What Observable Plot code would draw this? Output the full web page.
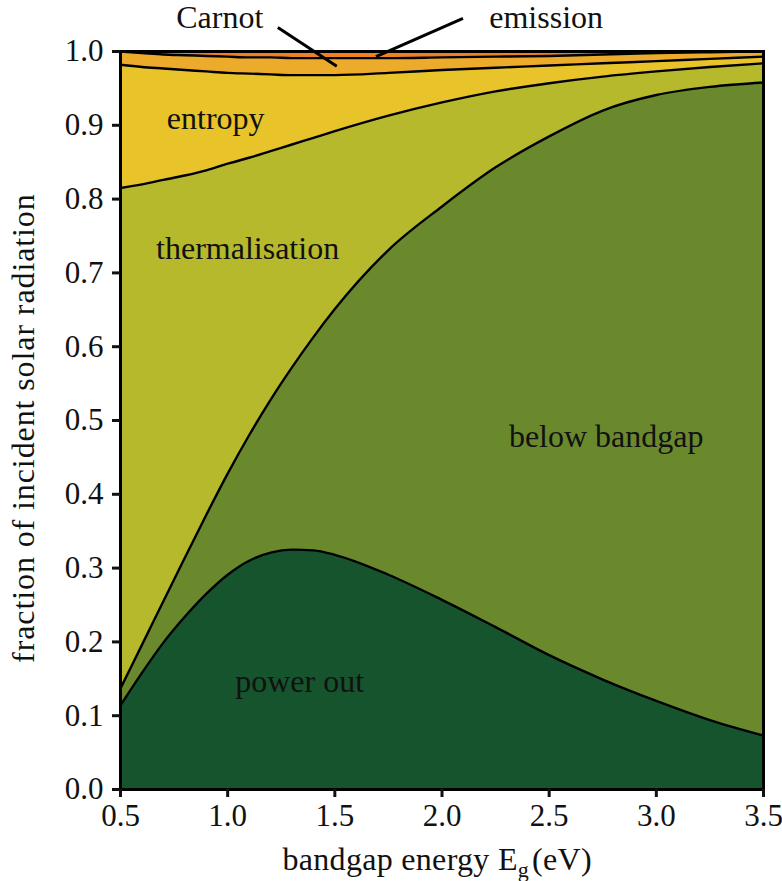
<!DOCTYPE html>
<html>
<head>
<meta charset="utf-8">
<script src="https://cdn.jsdelivr.net/npm/d3@7"></script>
<script src="https://cdn.jsdelivr.net/npm/@observablehq/plot@0.6"></script>
<style>
  html, body { margin: 0; padding: 0; background: #fff; overflow: hidden; }
  #chart svg, #chart svg text { font-family: "Liberation Serif", "DejaVu Serif", serif !important; }
</style>
</head>
<body>
<div id="chart"></div>
<script>
const serif = "Liberation Serif, DejaVu Serif, serif";

// Bandgap energy grid (eV)
const bandgap = [0.5, 0.6, 0.7, 0.8, 0.9, 1.0, 1.1, 1.2, 1.3, 1.4, 1.5, 1.75, 2.0, 2.25, 2.5, 2.75, 3.0, 3.25, 3.5];

// Cumulative fraction of incident solar radiation at the top of each loss band
const powerOut       = [0.114, 0.158, 0.199, 0.234, 0.265, 0.291, 0.310, 0.321, 0.325, 0.324, 0.318, 0.291, 0.257, 0.220, 0.182, 0.149, 0.120, 0.094, 0.073];
const belowBandgap   = [0.137, 0.196, 0.255, 0.314, 0.372, 0.428, 0.480, 0.528, 0.572, 0.613, 0.651, 0.731, 0.790, 0.843, 0.885, 0.920, 0.941, 0.952, 0.958];
const thermalisation = [0.815, 0.820, 0.826, 0.832, 0.839, 0.848, 0.856, 0.865, 0.874, 0.883, 0.892, 0.913, 0.931, 0.946, 0.957, 0.966, 0.973, 0.979, 0.984];
const entropy        = [0.982, 0.979, 0.977, 0.975, 0.973, 0.971, 0.970, 0.969, 0.968, 0.968, 0.968, 0.971, 0.975, 0.978, 0.981, 0.984, 0.987, 0.990, 0.993];
const carnot         = [1.000, 0.998, 0.996, 0.995, 0.994, 0.993, 0.992, 0.992, 0.991, 0.991, 0.991, 0.991, 0.992, 0.993, 0.994, 0.996, 0.998, 0.999, 1.000];
const emission       = bandgap.map(() => 1.0);
const zero           = bandgap.map(() => 0.0);

// Bands from bottom to top
const bandNames  = ["power out", "below bandgap", "thermalisation", "entropy", "Carnot", "emission"];
const bandTops   = [powerOut, belowBandgap, thermalisation, entropy, carnot, emission];
const bandColors = ["#16542e", "#6a892c", "#b7b92c", "#e9c32a", "#ecab2b", "#f08024"];

// Axis ticks
const xTicks = [0.5, 1.0, 1.5, 2.0, 2.5, 3.0, 3.5];
const yTicks = [0.0, 0.1, 0.2, 0.3, 0.4, 0.5, 0.6, 0.7, 0.8, 0.9, 1.0];

// Labels placed inside their bands
const bandLabels = [
  {text: "entropy",        x: 0.944, y: 0.909},
  {text: "thermalisation", x: 1.093, y: 0.733},
  {text: "below bandgap",  x: 2.766, y: 0.478},
  {text: "power out",      x: 1.336, y: 0.146}
];
// Callout labels above the frame for the two thin bands, with their pointers
const callouts = [
  {text: "Carnot",   x: 0.963, y: 1.046, px1: 1.234, py1: 1.0325, px2: 1.509, py2: 0.980},
  {text: "emission", x: 2.486, y: 1.046, px1: 2.098, py1: 1.045,  px2: 1.692, py2: 0.993}
];

const rows = [];
bandTops.forEach((top, b) => {
  const bottom = b === 0 ? zero : bandTops[b - 1];
  bandgap.forEach((x, i) => rows.push({band: bandNames[b], x, lo: bottom[i], hi: top[i]}));
});

const areas = bandNames.map((name, b) =>
  Plot.areaY(rows.filter(d => d.band === name), {
    x: "x", y1: "lo", y2: "hi", fill: bandColors[b], curve: "monotone-x"
  })
);
const boundaries = bandTops.slice(0, 5).map(top =>
  Plot.line(bandgap.map((x, i) => ({x, y: top[i]})), {
    x: "x", y: "y", stroke: "#000", strokeWidth: 2.4, curve: "monotone-x"
  })
);

const tickStyle = {fontFamily: serif, fontSize: 31, fill: "#111"};
const labelStyle = {fontFamily: serif, fontSize: 32, fill: "#111", letterSpacing: 1};

const chart = Plot.plot({
  width: 782,
  height: 881,
  marginTop: 51,
  marginRight: 19,
  marginBottom: 92,
  marginLeft: 120,
  style: `font-family: ${serif}; font-size: 30px; color: #111; background: #fff; overflow: visible;`,
  x: {domain: [0.5, 3.5]},
  y: {domain: [0, 1]},
  marks: [
    ...areas,
    ...boundaries,
    Plot.frame({stroke: "#000", strokeWidth: 3}),
    Plot.axisX({ticks: xTicks, tickFormat: d => d.toFixed(1), tickSize: 8, tickPadding: 6, strokeWidth: 3, label: null, ...tickStyle}),
    Plot.axisY({ticks: yTicks, tickFormat: d => d.toFixed(1), tickSize: 8, tickPadding: 9, strokeWidth: 3, label: null, ...tickStyle}),
    Plot.text(bandLabels, {x: "x", y: "y", text: "text", ...labelStyle}),
    Plot.text(callouts, {x: "x", y: "y", text: "text", ...labelStyle}),
    Plot.link(callouts, {x1: "px1", y1: "py1", x2: "px2", y2: "py2", stroke: "#000", strokeWidth: 3})
  ]
});

document.getElementById("chart").appendChild(chart);

// Axis titles (the x title carries a subscript)
const svg = d3.select(chart);
const xs = chart.scale("x"), ys = chart.scale("y");
const xt = svg.append("text")
  .attr("x", xs.apply(1.98))
  .attr("y", 870)
  .attr("text-anchor", "middle")
  .attr("font-family", serif)
  .attr("font-size", 32)
  .attr("letter-spacing", 0.3)
  .attr("fill", "#111");
xt.append("tspan").text("bandgap energy E");
xt.append("tspan").attr("dy", 7).attr("font-size", 22).text("g");
xt.append("tspan").attr("dy", -7).attr("dx", 3).text("(eV)");

svg.append("text")
  .attr("transform", `translate(34,${ys.apply(0.489)}) rotate(-90)`)
  .attr("text-anchor", "middle")
  .attr("font-family", serif)
  .attr("font-size", 32)
  .attr("letter-spacing", 0.9)
  .attr("fill", "#111")
  .text("fraction of incident solar radiation");
</script>
</body>
</html>
